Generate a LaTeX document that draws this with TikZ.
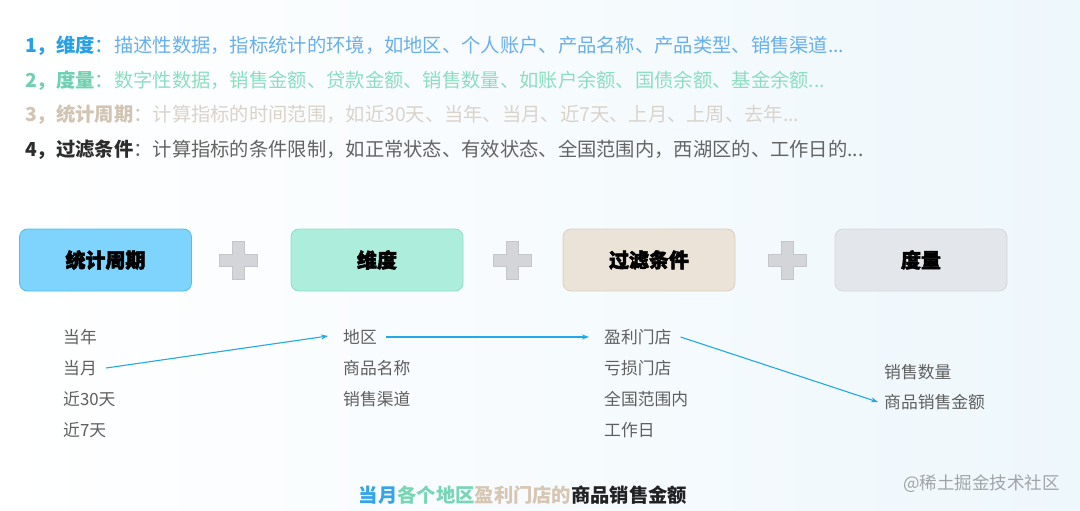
\documentclass[tikz,border=0pt]{standalone}
\usepackage{fontspec}
\setmainfont{Noto Sans CJK SC}
\newfontfamily\heavy[BoldFeatures={FakeBold=2.5}]{Noto Sans CJK SC}
\usetikzlibrary{arrows.meta}
\definecolor{bgR}{RGB}{238,247,252}
\definecolor{lblA}{RGB}{40,160,230}
\definecolor{txtA}{RGB}{105,176,234}
\definecolor{lblB}{RGB}{110,210,176}
\definecolor{txtB}{RGB}{140,222,192}
\definecolor{lblC}{RGB}{210,196,178}
\definecolor{txtC}{RGB}{218,211,202}
\definecolor{lblD}{RGB}{45,45,45}
\definecolor{txtD}{RGB}{100,100,100}
\definecolor{fillA}{RGB}{126,212,252}
\definecolor{drawA}{RGB}{80,190,238}
\definecolor{fillB}{RGB}{172,237,220}
\definecolor{drawB}{RGB}{140,222,198}
\definecolor{fillC}{RGB}{235,227,216}
\definecolor{drawC}{RGB}{218,208,194}
\definecolor{fillD}{RGB}{227,230,234}
\definecolor{drawD}{RGB}{212,215,220}
\definecolor{plusF}{RGB}{211,213,217}
\definecolor{plusD}{RGB}{196,198,202}
\definecolor{itemC}{RGB}{95,95,95}
\definecolor{arrC}{RGB}{34,170,230}
\definecolor{wmC}{RGB}{160,164,168}
\definecolor{capA}{RGB}{52,165,232}
\definecolor{capB}{RGB}{120,214,180}
\definecolor{capC}{RGB}{214,198,178}
\definecolor{capD}{RGB}{34,34,34}
\tikzset{
  topline/.style={anchor=west,inner sep=0pt,font=\fontsize{19.3}{22}\selectfont},
  catbox/.style={rounded corners=8pt,minimum width=172pt,minimum height=62pt,line width=0.8pt,font=\fontsize{20}{24}\selectfont\heavy\bfseries,text=black},
  item/.style={anchor=west,inner sep=0pt,text=itemC,font=\fontsize{16.8}{19}\selectfont},
  link/.style={draw=arrC,line width=1.1pt,-{Stealth[length=7pt,width=5pt]}},
  plusshape/.style={fill=plusF,draw=plusD,line width=0.6pt}
}
\newcommand{\plusat}[2]{%
  \path[plusshape] (#1-19,#2-6) -- (#1-6,#2-6) -- (#1-6,#2-19) -- (#1+6,#2-19) -- (#1+6,#2-6) -- (#1+19,#2-6) -- (#1+19,#2+6) -- (#1+6,#2+6) -- (#1+6,#2+19) -- (#1-6,#2+19) -- (#1-6,#2+6) -- (#1-19,#2+6) -- cycle;}
\begin{document}
\begin{tikzpicture}[x=1pt,y=-1pt]
\shade[left color=white,right color=bgR] (0,0) rectangle (1080,511);
\useasboundingbox (0,0) rectangle (1080,511);
% top lines
\node[topline] (l1) at (25,46) {\textcolor{lblA}{\bfseries 1，维度}\textcolor{lblA}{：}\textcolor{txtA}{ 描述性数据，指标统计的环境，如地区、个人账户、产品名称、产品类型、销售渠道...}};
\node[topline] (l2) at (25,81) {\textcolor{lblB}{\bfseries 2，度量}\textcolor{lblB}{：}\textcolor{txtB}{数字性数据，销售金额、贷款金额、销售数量、如账户余额、国债余额、基金余额...}};
\node[topline] (l3) at (25,115) {\textcolor{lblC}{\bfseries 3，统计周期}\textcolor{lblC}{：}\textcolor{txtC}{计算指标的时间范围，如近30天、当年、当月、近7天、上月、上周、去年...}};
\node[topline] (l4) at (25,150) {\textcolor{lblD}{\bfseries 4，过滤条件}\textcolor{txtD}{：计算指标的条件限制，如正常状态、有效状态、全国范围内，西湖区的、工作日的...}};
% boxes
\node[catbox,fill=fillA,draw=drawA] (b1) at (105.5,260) {统计周期};
\node[catbox,fill=fillB,draw=drawB] (b2) at (377,260) {维度};
\node[catbox,fill=fillC,draw=drawC] (b3) at (649,260) {过滤条件};
\node[catbox,fill=fillD,draw=drawD] (b4) at (921,260) {度量};
\plusat{238}{260}
\plusat{512}{260}
\plusat{787}{260}
% lists
\node[item] (p1) at (63,337) {当年};
\node[item] (p2) at (63,368) {当月};
\node[item] (p3) at (63,399) {近30天};
\node[item] (p4) at (63,430) {近7天};
\node[item] (d1) at (343,337) {地区};
\node[item] (d2) at (343,368) {商品名称};
\node[item] (d3) at (343,399) {销售渠道};
\node[item] (f1) at (604,337) {盈利门店};
\node[item] (f2) at (604,368) {亏损门店};
\node[item] (f3) at (604,399) {全国范围内};
\node[item] (f4) at (604,430) {工作日};
\node[item] (m1) at (884,372) {销售数量};
\node[item] (m2) at (884,402) {商品销售金额};
% arrows
\draw[link] ([xshift=9pt]p2.east) -- ([xshift=-15pt,yshift=1pt]d1.west);
\draw[link] ([xshift=9pt]d1.east) -- ([xshift=-15pt]f1.west);
\draw[link] ([xshift=9pt]f1.east) -- ([xshift=-6pt]m2.west);
% caption
\node[inner sep=0pt,font=\fontsize{19.3}{22}\selectfont\bfseries] (cap) at (523,495) {\textcolor{capA}{当月}\textcolor{capB}{各个地区}\textcolor{capC}{盈利门店的}\textcolor{capD}{商品销售金额}};
\node[inner sep=0pt,anchor=west,text=wmC,font=\fontsize{17.5}{20}\selectfont] (wm) at (903,484) {@稀土掘金技术社区};
\end{tikzpicture}
\end{document}
